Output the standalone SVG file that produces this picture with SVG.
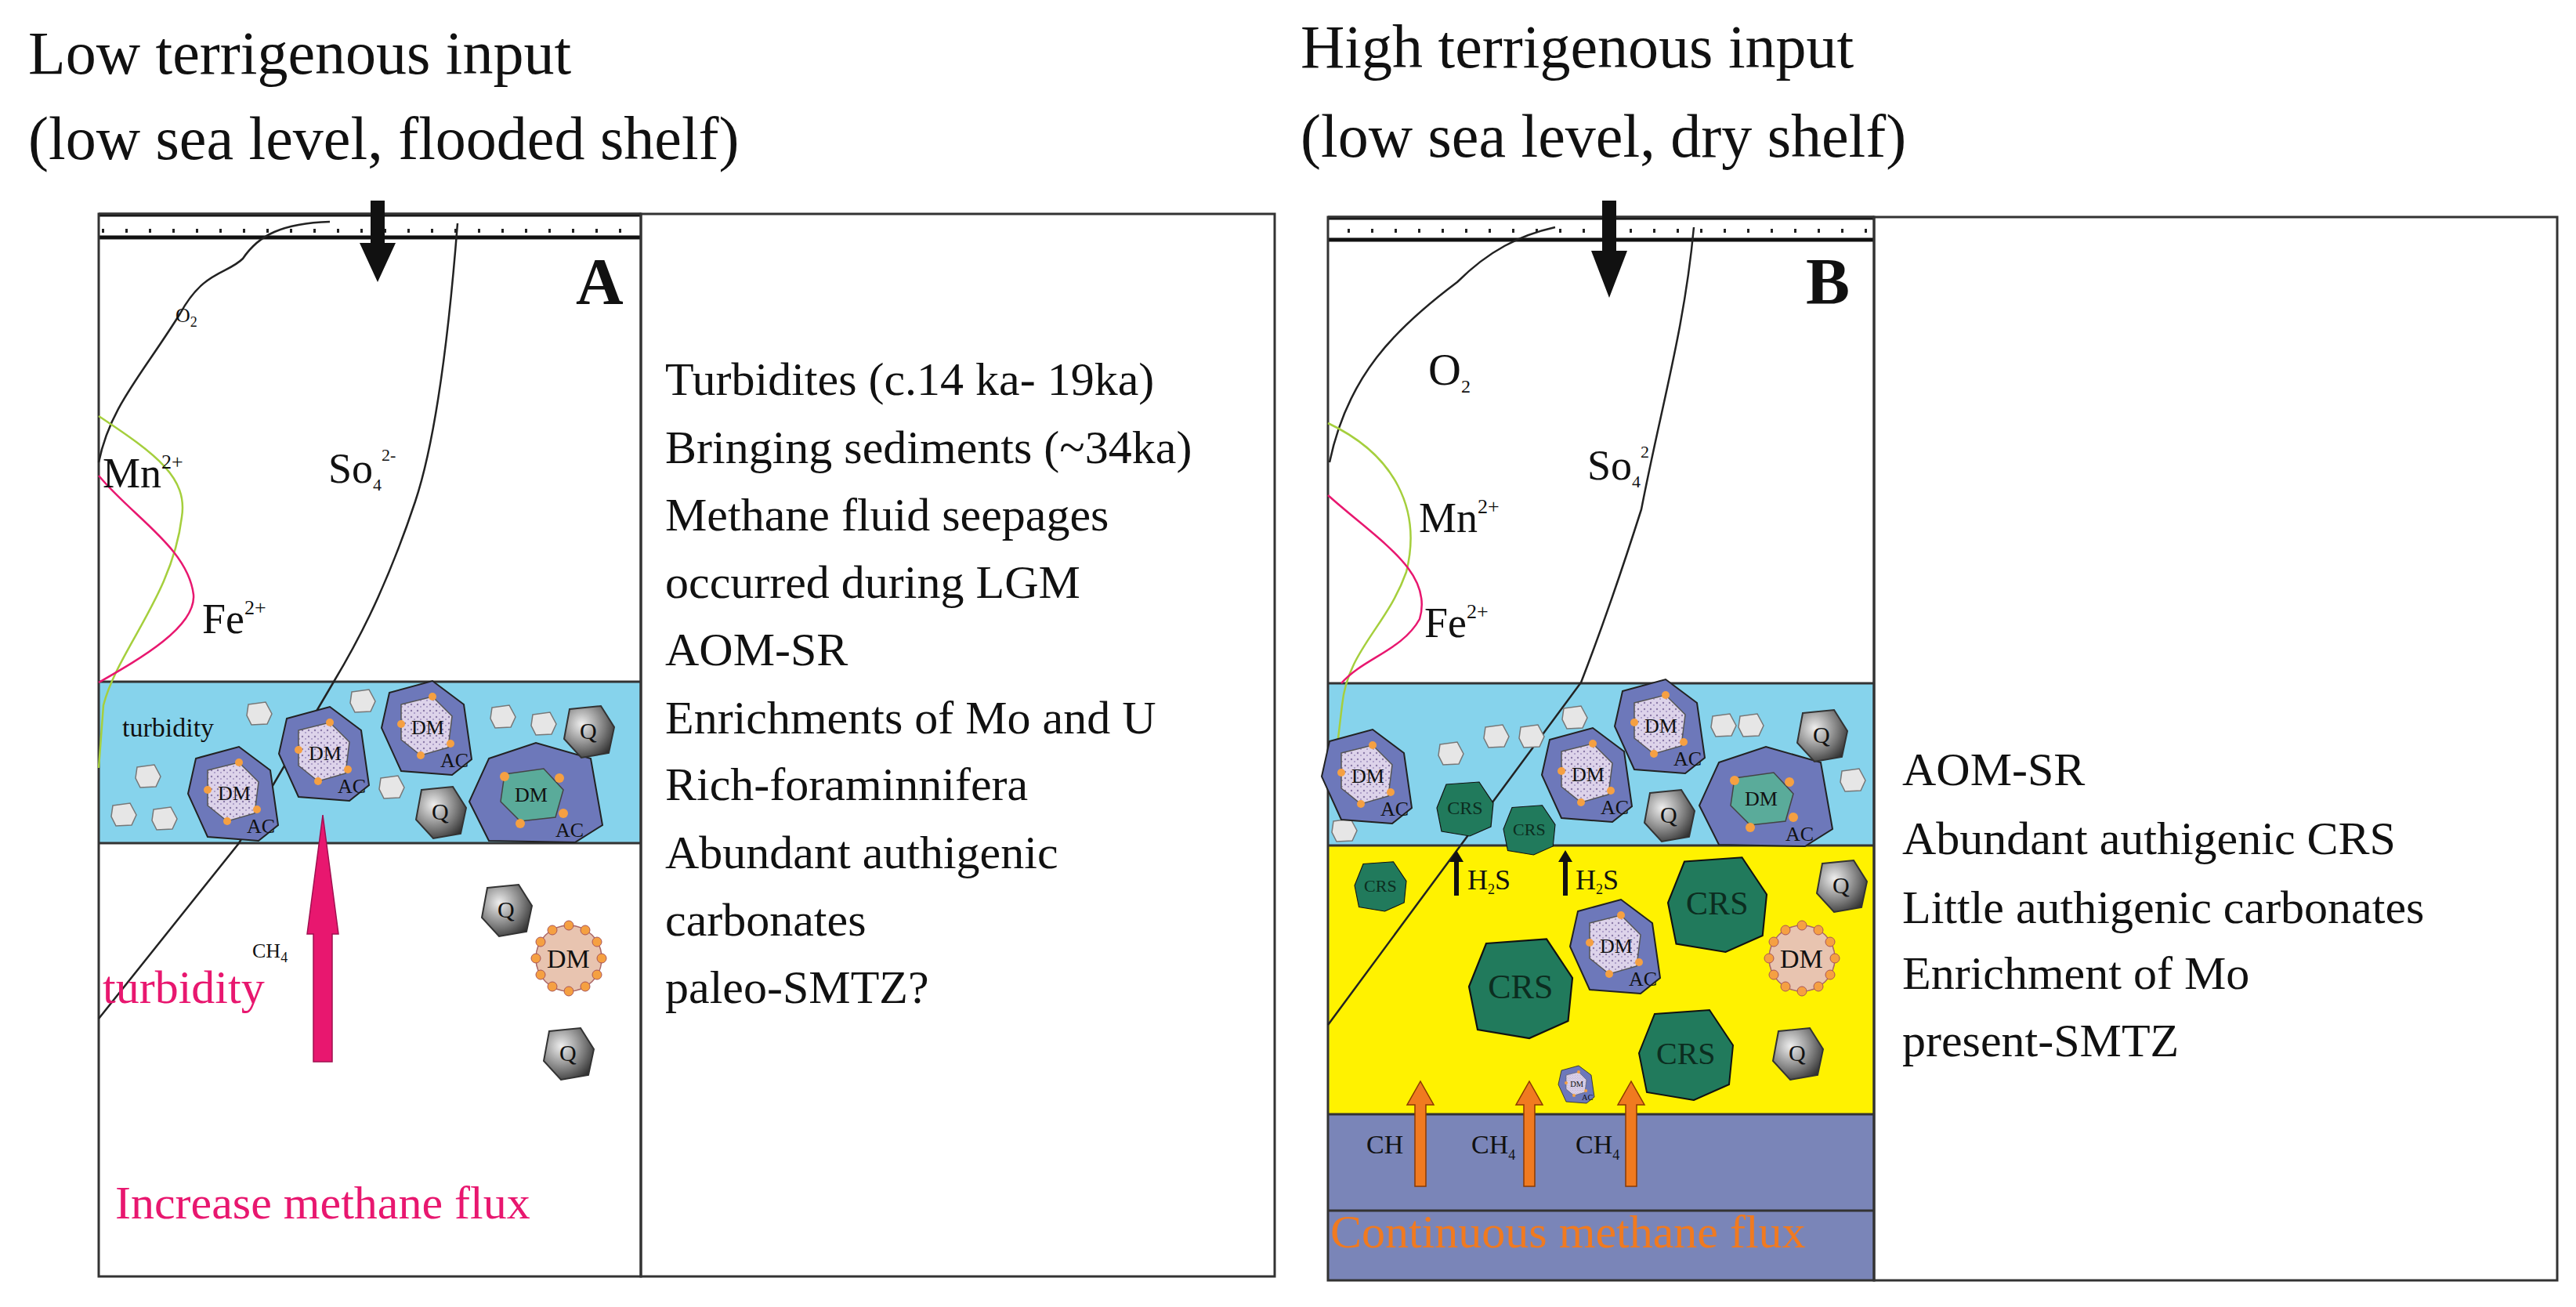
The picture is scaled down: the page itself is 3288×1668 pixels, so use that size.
<svg xmlns="http://www.w3.org/2000/svg" width="3288" height="1668" viewBox="0 0 3288 1668">
<style>
text{font-family:"Liberation Serif","DejaVu Serif",serif;fill:#111}
.title{font-size:78px}
.body{font-size:60px}
.box{fill:none;stroke:#333;stroke-width:3}
.ln{fill:none;stroke:#222;stroke-width:2.5}
.sm{font-size:26px}
</style>
<defs>
<pattern id="spk" width="8" height="8" patternUnits="userSpaceOnUse"><rect width="8" height="8" fill="#ddd3ea"/><circle cx="2" cy="2" r="1.2" fill="#8a7aa8"/><circle cx="6" cy="5" r="1" fill="#a090c0"/></pattern>
<pattern id="strip" width="30" height="31" patternUnits="userSpaceOnUse"><rect x="10" y="13" width="3" height="5" fill="#222"/></pattern>
<radialGradient id="qg" cx="0.35" cy="0.35" r="0.8"><stop offset="0" stop-color="#eee"/><stop offset="0.6" stop-color="#777"/><stop offset="1" stop-color="#222"/></radialGradient>
<g id="dmac">
<polygon points="-50,-45 5,-60 45,-30 55,40 30,60 -35,55 -60,0" fill="#6d78ba" stroke="#222" stroke-width="2"/>
<polygon points="-35,-30 5,-40 30,-15 25,25 -10,35 -35,15" fill="url(#spk)" stroke="#555" stroke-width="1.5"/>
<circle cx="-35" cy="-5" r="5" fill="#f5a042"/><circle cx="5" cy="-40" r="5" fill="#f5a042"/><circle cx="28" cy="20" r="5" fill="#f5a042"/><circle cx="-10" cy="35" r="5" fill="#f5a042"/>
<text x="-22" y="8" class="sm">DM</text><text x="15" y="50" class="sm">AC</text>
</g>
<g id="dmac2">
<polygon points="-60,-45 0,-65 70,-45 85,40 50,62 -60,60 -85,10" fill="#6d78ba" stroke="#222" stroke-width="2"/>
<polygon points="-40,-25 10,-32 35,-5 25,30 -20,35 -45,10" fill="#5aab9a" stroke="#444" stroke-width="1.5"/>
<circle cx="-40" cy="-22" r="6" fill="#f5a042"/><circle cx="30" cy="-20" r="6" fill="#f5a042"/><circle cx="35" cy="25" r="6" fill="#f5a042"/><circle cx="-20" cy="38" r="6" fill="#f5a042"/>
<text x="-27" y="10" class="sm">DM</text><text x="25" y="55" class="sm">AC</text>
</g>
<g id="q"><path d="M-25,-28 L15,-32 L32,-5 L25,28 L-10,34 L-32,10 Z" fill="url(#qg)" stroke="#333" stroke-width="2"/><text x="-12" y="10" style="font-size:30px">Q</text></g>
<g id="gr"><path d="M-14,-12 L8,-15 L16,0 L10,13 L-10,14 L-16,2 Z" fill="#e6e6e6" stroke="#777" stroke-width="1.5"/></g>
<g id="crs"><polygon points="-40,-50 30,-55 60,-10 55,40 10,60 -50,50 -60,0" fill="#217a5c" stroke="#111" stroke-width="2"/><text x="-38" y="14" style="font-size:40px;fill:#0c2d20">CRS</text></g>
<g id="dmd"><circle r="42" fill="#e8c4b0" stroke="#a66" stroke-width="1.5"/>
<g fill="#f5a042" stroke="#a55" stroke-width="1"><circle cx="42" cy="0" r="6"/><circle cx="36" cy="21" r="6"/><circle cx="21" cy="36" r="6"/><circle cx="0" cy="42" r="6"/><circle cx="-21" cy="36" r="6"/><circle cx="-36" cy="21" r="6"/><circle cx="-42" cy="0" r="6"/><circle cx="-36" cy="-21" r="6"/><circle cx="-21" cy="-36" r="6"/><circle cx="0" cy="-42" r="6"/><circle cx="21" cy="-36" r="6"/><circle cx="36" cy="-21" r="6"/></g>
<text x="-28" y="12" style="font-size:34px">DM</text></g>
</defs>
<rect width="3288" height="1668" fill="#fff"/>

<g id="titles">
<text x="36" y="94" class="title">Low terrigenous input</text>
<text x="36" y="203" class="title">(low sea level, flooded shelf)</text>
<text x="1660" y="86" class="title">High terrigenous input</text>
<text x="1660" y="200" class="title">(low sea level, dry shelf)</text>
</g>

<g id="panelA">
<rect x="126" y="870" width="692" height="206" fill="#86d3ec"/>
<line x1="126" y1="870" x2="818" y2="870" class="box"/><line x1="126" y1="1076" x2="818" y2="1076" class="box"/>
<rect x="126" y="273" width="692" height="31" fill="url(#strip)"/>
<line x1="126" y1="274" x2="818" y2="274" stroke="#111" stroke-width="5"/><line x1="126" y1="303" x2="818" y2="303" stroke="#111" stroke-width="5"/>
<rect x="126" y="273" width="692" height="1356" class="box"/>
<rect x="818" y="273" width="809" height="1356" class="box"/>
<path d="M421 283 C360 285 330 300 310 330 C290 350 260 345 230 400 C180 480 140 520 126 590" class="ln"/>
<path d="M584 285 C575 400 560 550 530 640 C490 760 450 830 426 870 L305 1076 L126 1300" class="ln"/>
<path d="M126 531 C200 580 240 610 232 660 C220 760 150 830 132 900 L126 980" fill="none" stroke="#a5cf3d" stroke-width="2.5"/>
<path d="M126 607 C170 660 240 700 247 759 C250 800 180 840 126 871" fill="none" stroke="#e8176f" stroke-width="2.5"/>
<polygon points="473,256 491,256 491,310 505,310 482,360 459,310 473,310" fill="#111"/>
<text x="735" y="388" style="font-size:84px;font-weight:bold">A</text>
<text x="224" y="411" style="font-size:26px">O<tspan dy="6" font-size="18">2</tspan></text>
<text x="131" y="622" style="font-size:54px">Mn<tspan dy="-24" font-size="26">2+</tspan></text>
<text x="419" y="616" style="font-size:54px">So<tspan dy="10" font-size="22">4</tspan><tspan dy="-38" font-size="22">2-</tspan></text>
<text x="258" y="808" style="font-size:54px">Fe<tspan dy="-24" font-size="26">2+</tspan></text>
<text x="156" y="940" style="font-size:34px">turbidity</text>
<use href="#gr" x="331" y="911"/><use href="#gr" x="463" y="895"/><use href="#gr" x="189" y="991"/><use href="#gr" x="158" y="1040"/><use href="#gr" x="210" y="1045"/><use href="#gr" x="642" y="915"/><use href="#gr" x="694" y="924"/><use href="#gr" x="500" y="1005"/>
<use href="#dmac" x="300" y="1013"/><use href="#dmac" x="416" y="962"/><use href="#dmac" x="547" y="929"/>
<use href="#dmac2" x="684" y="1013"/>
<use href="#q" x="752" y="933"/><use href="#q" x="563" y="1036"/>
<polygon points="400,1355 424,1355 424,1192 432,1192 412,1040 392,1192 400,1192" fill="#e8176f" stroke="#a01050" stroke-width="1.5"/>
<text x="322" y="1222" style="font-size:26px">CH<tspan dy="6" font-size="18">4</tspan></text>
<text x="131" y="1280" style="font-size:60px;fill:#e8176f">turbidity</text>
<use href="#q" x="647" y="1161"/><use href="#dmd" x="726" y="1223"/><use href="#q" x="726" y="1344"/>
<text x="147" y="1555" style="font-size:60px;fill:#e8176f">Increase  methane flux</text>
<g class="body">
<text x="849" y="504" class="body">Turbidites (c.14 ka- 19ka)</text>
<text x="849" y="591" class="body">Bringing sediments (~34ka)</text>
<text x="849" y="677" class="body">Methane fluid seepages</text>
<text x="849" y="763" class="body">occurred during LGM</text>
<text x="849" y="849" class="body">AOM-SR</text>
<text x="849" y="936" class="body">Enrichments of Mo and U</text>
<text x="849" y="1021" class="body">Rich-foraminnifera</text>
<text x="849" y="1108" class="body">Abundant  authigenic</text>
<text x="849" y="1194" class="body">carbonates</text>
<text x="849" y="1280" class="body">paleo-SMTZ?</text>
</g>
</g>

<g id="panelB">
<rect x="1695" y="872" width="697" height="207" fill="#86d3ec"/>
<rect x="1695" y="1079" width="697" height="343" fill="#fff200"/>
<rect x="1695" y="1422" width="697" height="212" fill="#7a85b8"/>
<line x1="1695" y1="872" x2="2392" y2="872" class="box"/><line x1="1695" y1="1079" x2="2392" y2="1079" class="box"/><line x1="1695" y1="1422" x2="2392" y2="1422" class="box"/><line x1="1695" y1="1545" x2="2392" y2="1545" class="box"/>
<rect x="1695" y="277" width="697" height="30" fill="url(#strip)"/>
<line x1="1695" y1="278" x2="2392" y2="278" stroke="#111" stroke-width="5"/><line x1="1695" y1="306" x2="2392" y2="306" stroke="#111" stroke-width="5"/>
<rect x="1695" y="277" width="697" height="1357" class="box"/>
<rect x="2392" y="277" width="872" height="1357" class="box"/>
<path d="M1985 290 C1940 300 1900 320 1860 360 C1780 420 1720 480 1697 590" class="ln"/>
<path d="M2162 290 C2150 420 2120 520 2095 650 C2060 760 2030 840 2018 871 L1695 1308" class="ln"/>
<path d="M1695 540 C1780 580 1815 650 1795 730 C1770 800 1720 830 1713 900 L1700 1010" fill="none" stroke="#a5cf3d" stroke-width="2.5"/>
<path d="M1695 632 C1760 690 1830 730 1812 790 C1790 830 1740 840 1712 872" fill="none" stroke="#e8176f" stroke-width="2.5"/>
<polygon points="2045,256 2063,256 2063,320 2077,320 2054,380 2031,320 2045,320" fill="#111"/>
<text x="2305" y="388" style="font-size:84px;font-weight:bold">B</text>
<text x="1823" y="491" style="font-size:58px">O<tspan dy="10" font-size="24">2</tspan></text>
<text x="2026" y="612" style="font-size:54px">So<tspan dy="10" font-size="22">4</tspan><tspan dy="-38" font-size="22">2</tspan></text>
<text x="1811" y="679" style="font-size:54px">Mn<tspan dy="-24" font-size="26">2+</tspan></text>
<text x="1818" y="813" style="font-size:54px">Fe<tspan dy="-24" font-size="26">2+</tspan></text>
<use href="#gr" x="1852" y="962"/><use href="#gr" x="1910" y="940"/><use href="#gr" x="1955" y="940"/><use href="#gr" x="2010" y="916"/><use href="#gr" x="2200" y="926"/><use href="#gr" x="2235" y="926"/><use href="#gr" x="2365" y="996"/><use href="#gr" x="1716" y="1060"/>
<use href="#dmac" x="1747" y="991"/><use href="#dmac" x="2028" y="989"/><use href="#dmac" x="2121" y="927"/>
<use href="#dmac2" x="2254" y="1018"/>
<use href="#q" x="2326" y="938"/><use href="#q" x="2131" y="1040"/>
<g transform="translate(1870 1031) scale(0.6)"><use href="#crs"/></g>
<g transform="translate(1952 1058) scale(0.55)"><use href="#crs"/></g>
<g transform="translate(1762 1130) scale(0.55)"><use href="#crs"/></g>
<polygon points="1856,1143 1862,1143 1862,1100 1868,1100 1859,1085 1850,1100 1856,1100" fill="#111"/>
<polygon points="1995,1143 2001,1143 2001,1100 2007,1100 1998,1085 1989,1100 1995,1100" fill="#111"/>
<text x="1873" y="1135" style="font-size:36px">H<tspan dy="6" font-size="18">2</tspan><tspan dy="-6">S</tspan></text>
<text x="2011" y="1135" style="font-size:36px">H<tspan dy="6" font-size="18">2</tspan><tspan dy="-6">S</tspan></text>
<g transform="translate(2192 1152) scale(1.05)"><use href="#crs"/></g>
<g transform="translate(1941 1259) scale(1.1)"><use href="#crs"/></g>
<g transform="translate(2152 1344) scale(1.0)"><use href="#crs"/></g>
<use href="#dmac" x="2064" y="1208"/>
<use href="#dmd" x="2300" y="1223"/>
<use href="#q" x="2351" y="1130"/><use href="#q" x="2295" y="1344"/>
<g transform="translate(2013 1384) scale(0.4)"><use href="#dmac"/></g>
<g fill="#f07a20" stroke="#8a3a00" stroke-width="1.5">
<polygon points="1806,1514 1820,1514 1820,1410 1830,1410 1813,1380 1796,1410 1806,1410"/>
<polygon points="1945,1514 1959,1514 1959,1410 1969,1410 1952,1380 1935,1410 1945,1410"/>
<polygon points="2075,1514 2089,1514 2089,1410 2099,1410 2082,1380 2065,1410 2075,1410"/>
</g>
<text x="1744" y="1472" style="font-size:34px">CH</text>
<text x="1878" y="1472" style="font-size:34px">CH<tspan dy="8" font-size="18">4</tspan></text>
<text x="2011" y="1472" style="font-size:34px">CH<tspan dy="8" font-size="18">4</tspan></text>
<text x="1698" y="1592" style="font-size:60px;fill:#f07a20">Continuous methane flux</text>
<text x="2428" y="1002" class="body">AOM-SR</text>
<text x="2428" y="1090" class="body">Abundant  authigenic CRS</text>
<text x="2428" y="1178" class="body">Little authigenic carbonates</text>
<text x="2428" y="1262" class="body">Enrichment of Mo</text>
<text x="2428" y="1348" class="body">present-SMTZ</text>
</g>
</svg>
